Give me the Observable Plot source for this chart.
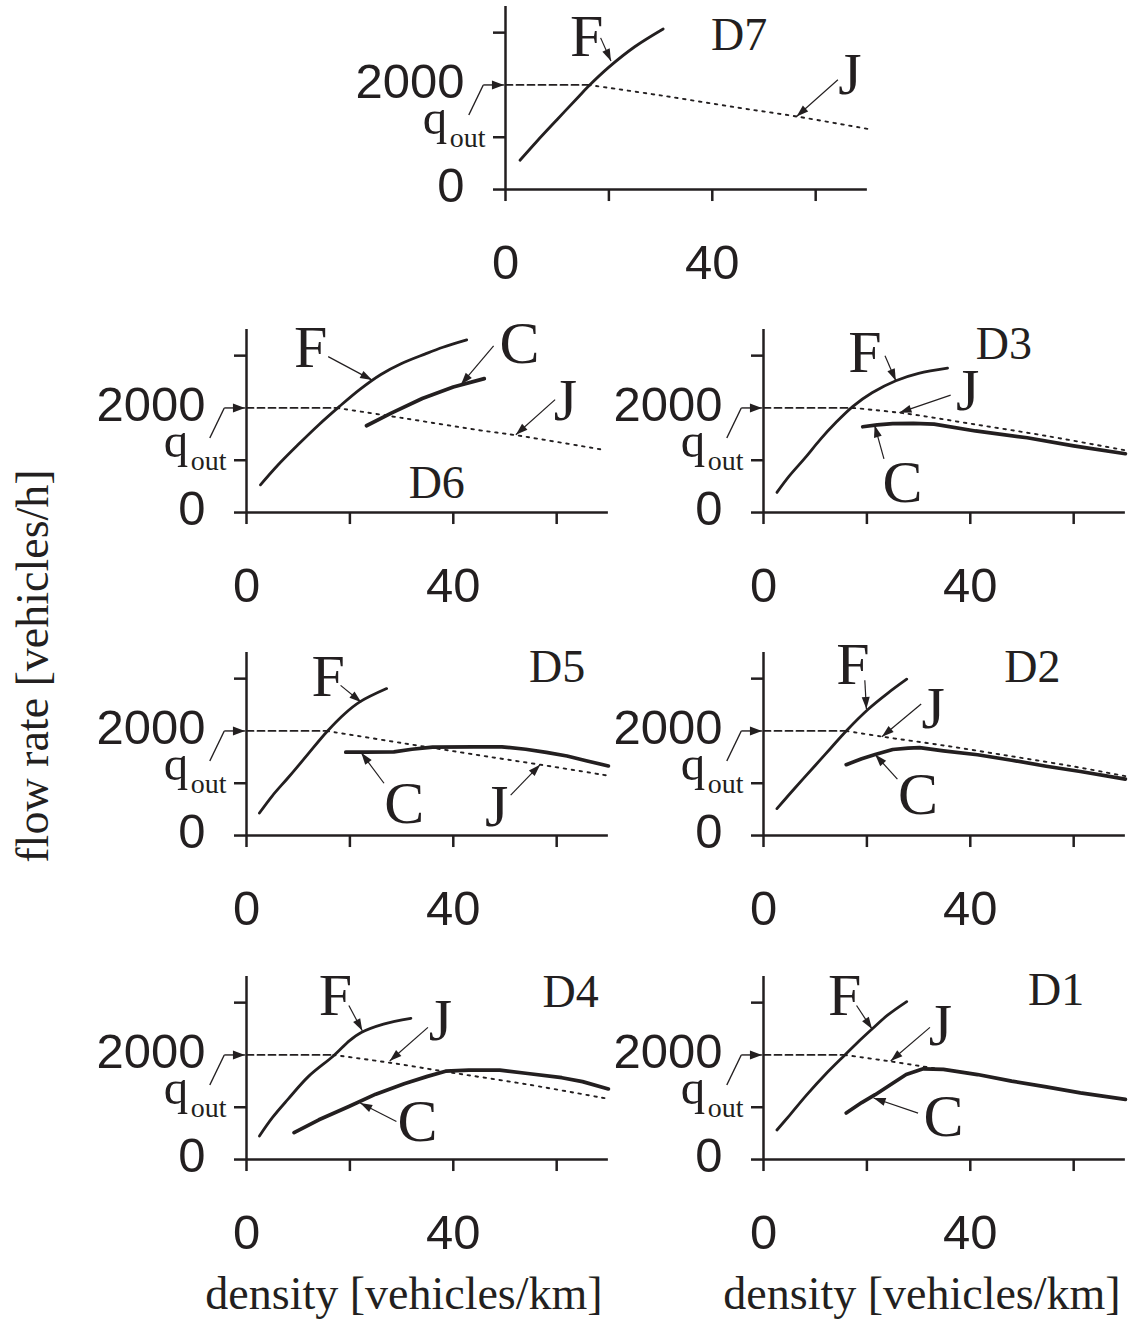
<!DOCTYPE html>
<html><head><meta charset="utf-8">
<script src="https://cdn.jsdelivr.net/npm/d3@7"></script>
<script src="https://cdn.jsdelivr.net/npm/@observablehq/plot@0.6"></script>
<style>
html,body{margin:0;padding:0;background:#fff;overflow:hidden}
#wrap{position:relative;width:1136px;height:1320px;overflow:hidden;background:#fff}
.title{position:absolute;font-family:"Liberation Serif","Times New Roman",serif;font-size:46px;line-height:1;color:#231f20;white-space:nowrap}
</style></head><body><div id="wrap"></div>
<script>
// ---------- data (density veh/km, flow veh/h) ----------
const xTicks = [0, 20, 40, 60];
const xTickLabels = [0, 40];
const yTicks = [0, 1000, 3000];
const yTickLabels = [0, 2000];
const qOutValue = 2000;

// D7
const fD7 = [[2.8,560],[6,915],[10,1340],[14,1760],[16,1970],[20,2340],[25,2730],[30.5,3070]];
const qD7 = [[0,2000],[16,2000]];
const jD7 = [[16,2000],[30,1800],[45,1565],[56.3,1397],[70,1160]];
// D6
const fD6 = [[2.7,530],[6,900],[10,1300],[14,1680],[18,2030],[22,2360],[26,2640],[30,2850],[34.5,3030],[38,3160],[42.6,3300]];
const qD6 = [[0,2000],[17.5,2000]];
const jD6 = [[17.5,2000],[30,1810],[45,1575],[52,1480],[69,1200]];
const cD6 = [[23.2,1660],[28,1900],[34,2180],[40,2400],[46,2560]];
// D3
const fD3 = [[2.6,385],[5,700],[8,1040],[11,1400],[14,1720],[17.3,2030],[21,2290],[25.6,2520],[30,2660],[35.6,2760]];
const qD3 = [[0,2000],[17.3,2000]];
const jD3 = [[17.3,2000],[27,1900],[40,1700],[55,1460],[70,1190]];
const cD3 = [[19.2,1640],[22,1675],[25,1700],[29,1705],[33,1690],[41,1560],[51,1430],[60,1275],[70,1125]];
// D5
const fD5 = [[2.5,430],[5,760],[8,1100],[11,1450],[15.5,1980],[19,2330],[22,2560],[27.1,2810]];
const qD5 = [[0,2000],[15.5,2000]];
const jD5 = [[15.5,2000],[30,1770],[45,1535],[56.8,1355],[70,1145]];
const cD5 = [[19.2,1595],[23,1595],[28.5,1600],[32,1650],[36,1690],[44,1697],[49.4,1697],[54,1650],[58,1590],[62,1520],[65.7,1430],[70,1330]];
// D2
const fD2 = [[2.6,515],[6,900],[10,1340],[13,1670],[16,2000],[20.3,2420],[24,2720],[27.7,2990]];
const qD2 = [[0,2000],[16,2000]];
const jD2 = [[16,2000],[23,1890],[35,1720],[48,1515],[60,1320],[70,1135]];
const cD2 = [[16,1355],[19,1470],[21.6,1550],[25,1645],[28,1670],[30.2,1680],[34.8,1620],[41.4,1545],[48,1440],[54.7,1325],[61.3,1225],[70,1080]];
// D4
const fD4 = [[2.5,450],[5,800],[8,1150],[12,1590],[16.8,1980],[20,2280],[22.2,2430],[26.5,2590],[31.8,2700]];
const qD4 = [[0,2000],[16.8,2000]];
const jD4 = [[16.8,2000],[27.8,1850],[39.8,1660],[54.4,1435],[70,1160]];
const cD4 = [[9.2,515],[14,760],[19.8,1015],[25,1250],[30.5,1450],[35,1590],[38.5,1690],[43,1710],[49,1710],[54.4,1645],[61,1565],[65,1490],[70,1350]];
// D1
const fD1 = [[2.6,565],[5,840],[8.4,1240],[12,1630],[15.7,1995],[18,2220],[21,2495],[24,2760],[27.7,3020]];
const qD1 = [[0,2000],[15.7,2000]];
const jD1 = [[15.7,2000],[24.3,1880],[33,1745]];
const cD1 = [[16,890],[19,1090],[21.6,1240],[25,1460],[27.6,1625],[30.9,1735],[34.8,1725],[41.4,1625],[48,1500],[54.7,1390],[61.3,1275],[70,1150]];

// ---------- layout ----------
const PX = 5.17, PY = 0.0523;          // px per unit
const XMAX = 70, YMAX = 3500;
const ML = 170, MR = 8, MT = 6, MB = 100;
const innerW = XMAX * PX, innerH = YMAX * PY;
const ink = "#231f20";
const SANS = "Liberation Sans, Arial, sans-serif";
const SERIF = "Liberation Serif, Times New Roman, serif";

const panels = [
  {name:"D7", ox:505, oy:189, F:fD7, Q:qD7, J:jD7, C:null,
   letters:[["F",15.7,2930],["J",66.6,2197]], tag:[45.2,2951],
   arrows:[[18.4,2900,20.4,2459],[64.3,2098,56.3,1397]]},
  {name:"D6", ox:246, oy:512, F:fD6, Q:qD6, J:jD6, C:cD6,
   letters:[["F",12.4,3154],["C",52.8,3218],["J",61.7,2128]], tag:[36.8,558],
   arrows:[[15.8,2981,24.3,2532],[47.8,3186,41.5,2449],[59.7,2160,52.1,1487]]},
  {name:"D3", ox:763, oy:512, F:fD3, Q:qD3, J:jD3, C:cD3,
   letters:[["F",19.6,3064],["J",39.5,2327],["C",26.9,564]], tag:[46.5,3224],
   arrows:[[23.5,3000,25.6,2519],[36.2,2244,26.3,1910],[23.3,1026,21.5,1667]]},
  {name:"D5", ox:246, oy:835, F:fD5, Q:qD5, J:jD5, C:cD5,
   letters:[["F",15.8,3032],["C",30.5,613],["J",48.4,548]], tag:[60.1,3226],
   arrows:[[18.2,2871,22.2,2548],[26.6,1000,22.2,1581],[51.1,774,56.8,1355]]},
  {name:"D2", ox:763, oy:835, F:fD2, Q:qD2, J:jD2, C:cD2,
   letters:[["F",17.3,3258],["J",32.8,2419],["C",29.9,774]], tag:[52,3226],
   arrows:[[19.6,2968,19.9,2419],[30.5,2516,22.9,1890],[25.9,1077,21.6,1548]]},
  {name:"D4", ox:246, oy:1159, F:fD4, Q:qD4, J:jD4, C:cD4,
   letters:[["F",17.2,3138],["J",37.5,2656],["C",33.1,727]], tag:[62.7,3203],
   arrows:[[19.8,2945,22.4,2463],[35.1,2527,27.7,1884],[29,727,22,1080]]},
  {name:"D1", ox:763, oy:1159, F:fD1, Q:qD1, J:jD1, C:cD1,
   letters:[["F",15.7,3138],["J",34.2,2559],["C",34.8,823]], tag:[56.6,3235],
   arrows:[[18,2945,21,2495],[32.2,2527,24.6,1884],[29.9,887,21.3,1177]]}
];

// q_out bent pointer (data units, extrapolated left of the axis)
const qPointer = [[-7.1,1426],[-4.3,2000],[-0.3,2000]];

function heads(list, L = 12, w = 4) {
  const pts = [];
  list.forEach((a, k) => {
    const [x1,y1,x2,y2] = a;
    let dx = (x2-x1)*PX, dy = -(y2-y1)*PY;
    const len = Math.hypot(dx,dy); dx/=len; dy/=len;
    const bx = -dx*L, by = -dy*L;          // base centre offset (px)
    const nx = -dy*w, ny = dx*w;
    const toD = (px,py) => [x2 + px/PX, y2 - py/PY];
    const t = toD(0,0), b1 = toD(bx+nx, by+ny), b2 = toD(bx-nx, by-ny);
    pts.push({x:t[0],y:t[1],k}, {x:b1[0],y:b1[1],k}, {x:b2[0],y:b2[1],k});
  });
  return pts;
}

const wrap = document.getElementById("wrap");
const px = d => d[0], py = d => d[1];

for (const p of panels) {
  const tickLenY = 12 / PY, tickLenX = 12 / PX;
  const arrowLines = p.arrows.map(a => ({x1:a[0],y1:a[1],x2:a[2],y2:a[3]}));
  const qSeg = qPointer.slice(0,-1).map((d,i) => ({x1:d[0],y1:d[1],x2:qPointer[i+1][0],y2:qPointer[i+1][1]}));
  const qHead = [[qPointer[1][0], qOutValue, qPointer[2][0], qOutValue]];
  const marks = [
    // axes
    Plot.ruleY([0], {x1: () => 0, x2: () => XMAX, stroke: ink, strokeWidth: 2.5}),
    Plot.ruleX([0], {y1: () => 0, y2: () => YMAX, stroke: ink, strokeWidth: 2.5}),
    Plot.ruleX(xTicks, {x: d => d, y1: () => 0, y2: () => -tickLenY, stroke: ink, strokeWidth: 2.5}),
    Plot.ruleY(yTicks, {y: d => d, x1: () => 0, x2: () => -tickLenX, stroke: ink, strokeWidth: 2.5}),
    Plot.text(xTickLabels, {x: d => d, y: () => 0, text: d => String(d), dy: 74, fontSize: 49, fontFamily: SANS, fill: ink}),
    Plot.text(yTickLabels, {x: () => 0, y: d => d, text: d => String(d), dx: -41, dy: -3, textAnchor: "end", fontSize: 49, fontFamily: SANS, fill: ink}),
    // q_out pointer and label
    Plot.link(qSeg, {x1:"x1", y1:"y1", x2:"x2", y2:"y2", stroke: ink, strokeWidth: 1.4}),
    Plot.line(heads(qHead, 12, 4.5), {x:"x", y:"y", z:"k", fill: ink, stroke: "none"}),
    Plot.text(["q"], {x: () => -16.0, y: () => 1050, text: d => d, textAnchor: "start", dy: -16, fontSize: 49, fontFamily: SERIF, fill: ink}),
    Plot.text(["out"], {x: () => -10.8, y: () => 810, text: d => d, textAnchor: "start", dy: -9, fontSize: 28, fontFamily: SERIF, fill: ink}),
    // curves
    Plot.line(p.Q, {x: px, y: py, stroke: ink, strokeWidth: 1.8, strokeDasharray: "7,4"}),
    Plot.line(p.J, {x: px, y: py, stroke: ink, strokeWidth: 1.9, strokeDasharray: "2.5,5.5", curve: "catmull-rom"}),
    Plot.line(p.F, {x: px, y: py, stroke: ink, strokeWidth: 2.8, curve: "catmull-rom"}),
  ];
  if (p.C) marks.push(Plot.line(p.C, {x: px, y: py, stroke: ink, strokeWidth: 3.7, curve: "linear"}));
  marks.push(
    Plot.link(arrowLines, {x1:"x1", y1:"y1", x2:"x2", y2:"y2", stroke: ink, strokeWidth: 1.2}),
    Plot.line(heads(p.arrows), {x:"x", y:"y", z:"k", fill: ink, stroke: "none"}),
    Plot.text(p.letters, {x: d => d[1], y: d => d[2], text: d => d[0], fontSize: 60, fontFamily: SERIF, fill: ink}),
    Plot.text([p.name], {x: () => p.tag[0], y: () => p.tag[1], text: d => d, fontSize: 46, fontFamily: SERIF, fill: ink})
  );
  const svg = Plot.plot({
    width: ML + innerW + MR, height: MT + innerH + MB,
    marginLeft: ML, marginRight: MR, marginTop: MT, marginBottom: MB,
    x: {domain: [0, XMAX], axis: null},
    y: {domain: [0, YMAX], axis: null},
    style: {background: "none", overflow: "visible", maxWidth: "none"},
    marks
  });
  svg.style.position = "absolute";
  svg.style.left = (p.ox - ML) + "px";
  svg.style.top = (p.oy - innerH - MT) + "px";
  wrap.appendChild(svg);
}

// axis titles
const yt = document.createElement("div");
yt.className = "title"; yt.textContent = "flow rate [vehicles/h]";
yt.style.left = "33px"; yt.style.top = "666px";
yt.style.transform = "translate(-50%,-50%) rotate(-90deg)";
wrap.appendChild(yt);
for (const cx of [404, 922]) {
  const t = document.createElement("div");
  t.className = "title"; t.textContent = "density [vehicles/km]";
  t.style.left = cx + "px"; t.style.top = "1271px";
  t.style.transform = "translateX(-50%)";
  wrap.appendChild(t);
}
</script></body></html>
